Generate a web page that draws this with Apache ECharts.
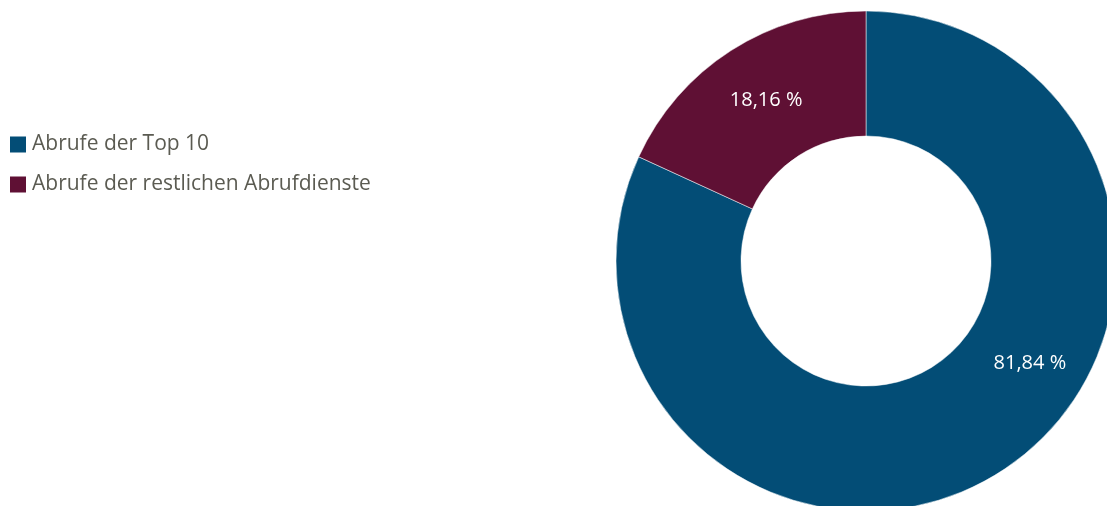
<!DOCTYPE html>
<html>
<head>
<meta charset="utf-8">
<script src="https://cdn.jsdelivr.net/npm/echarts@6/dist/echarts.min.js"></script>
<style>html,body{margin:0;padding:0;background:#fff}#c{width:1107px;height:506px}</style>
</head>
<body>
<div id="c"></div>
<script>
const categories = ['Abrufe der Top 10', 'Abrufe der restlichen Abrufdienste'];
const values = [81.84, 18.16];
const colors = ['#034d76', '#5f1034'];

const chart = echarts.init(document.getElementById('c'), null, {renderer: 'canvas'});
const data = categories.map((name, i) => ({
  name: name,
  value: values[i],
  itemStyle: {color: colors[i]},
  label: i === 0 ? {offset: [61, -58]} : {offset: [3, 0]}
}));
chart.setOption({
  animation: false,
  legend: {
    orient: 'vertical',
    left: 10,
    top: 134,
    padding: 0,
    itemWidth: 16,
    itemHeight: 16,
    itemGap: 19,
    icon: 'rect',
    itemStyle: {borderWidth: 0},
    textStyle: {fontFamily: 'Open Sans, sans-serif', fontSize: 21, color: '#5b5b52', padding: [0, 0, 0, 1]},
    data: categories
  },
  series: [{
    type: 'pie',
    center: [866, 261],
    radius: [125, 250],
    startAngle: 90,
    clockwise: true,
    itemStyle: {borderColor: '#ffffff', borderWidth: 0.5},
    label: {
      show: true,
      position: 'inside',
      color: '#ffffff',
      fontFamily: 'Open Sans, sans-serif',
      fontSize: 20,
      formatter: p => p.value.toFixed(2).replace('.', ',') + ' %'
    },
    labelLine: {show: false},
    emphasis: {disabled: true},
    data: data
  }]
});
</script>
</body>
</html>
